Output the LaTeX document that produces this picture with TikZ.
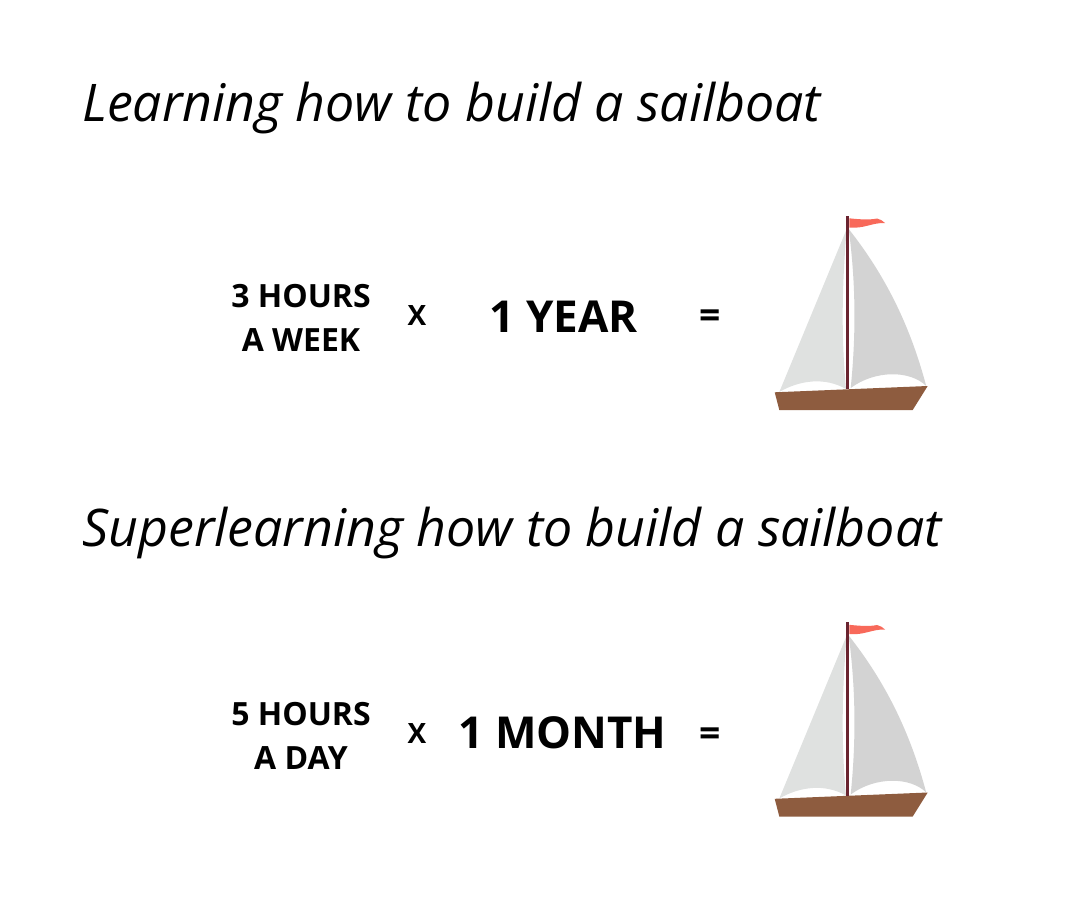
\documentclass[tikz,border=0pt]{standalone}
\usepackage{fontspec}
\setmainfont{Open Sans}
\definecolor{hullc}{HTML}{8E5C3F}
\definecolor{mastc}{HTML}{6A2430}
\definecolor{flagc}{HTML}{F8695A}
\definecolor{saill}{HTML}{DFE1E0}
\definecolor{sailr}{HTML}{D3D3D3}
\tikzset{
  titletext/.style={font=\fontsize{38.9}{44}\selectfont\itshape,anchor=base west,inner sep=0pt,text=black},
  smalltext/.style={font=\fontsize{24}{33}\selectfont\bfseries,align=center,inner sep=0pt,text=black},
  bigtext/.style={font=\fontsize{33}{40}\selectfont\bfseries,inner sep=0pt,anchor=base,text=black},
  optext/.style={font=\fontsize{21}{30}\selectfont\bfseries,inner sep=0pt,anchor=base,text=black},
  eqtext/.style={font=\fontsize{28}{30}\selectfont\bfseries,inner sep=0pt,anchor=base,text=black},
  boat/.pic={
    \fill[sailr] (88.7,24) .. controls (125,70) and (150,120) .. (166.2,181)
       .. controls (150,165) and (115,165) .. (90.7,183)
       .. controls (96,130) and (96,80) .. (88.7,24) -- cycle;
    \fill[saill] (86.7,24) -- (19.3,187)
       .. controls (40,175) and (65,172) .. (86,184)
       .. controls (81,130) and (82,80) .. (86.7,24) -- cycle;
    \fill[hullc] (14.7,187.3) -- (167.7,181) -- (152.7,205) -- (19.3,205) -- cycle;
    \fill[mastc] (85.8,10.7) -- (89,10.7) -- (89,184) -- (85.8,184) -- cycle;
    \fill[flagc] (89.3,13.3) .. controls (100,14.5) and (110,15) .. (117,13.5)
       .. controls (120,14) and (123,16) .. (125,18)
       .. controls (112,17.5) and (104,24) .. (89.3,22.5) -- cycle;
  }
}
\begin{document}
\begin{tikzpicture}[x=0.75pt,y=-0.75pt]
\useasboundingbox (0,0) rectangle (1080,916);
\node[titletext] (t1) at (82,121.5) {Learning how to build a sailboat};
\node[titletext] (t2) at (82,546.5) {Superlearning how to build a sailboat};
\node[smalltext] (a1) at (301,318) {3 HOURS\\A WEEK};
\node[optext] (x1) at (417,325) {X};
\node[bigtext] (y1) at (563.5,332.5) {1 YEAR};
\node[eqtext] (e1) at (710,328.5) {=};
\node[smalltext] (a2) at (301,736) {5 HOURS\\A DAY};
\node[optext] (x2) at (417,743) {X};
\node[bigtext] (y2) at (562.5,748.5) {1 MONTH};
\node[eqtext] (e2) at (710,746.5) {=};
\pic at (760,205) {boat};
\pic at (760,611.5) {boat};
\end{tikzpicture}
\end{document}
